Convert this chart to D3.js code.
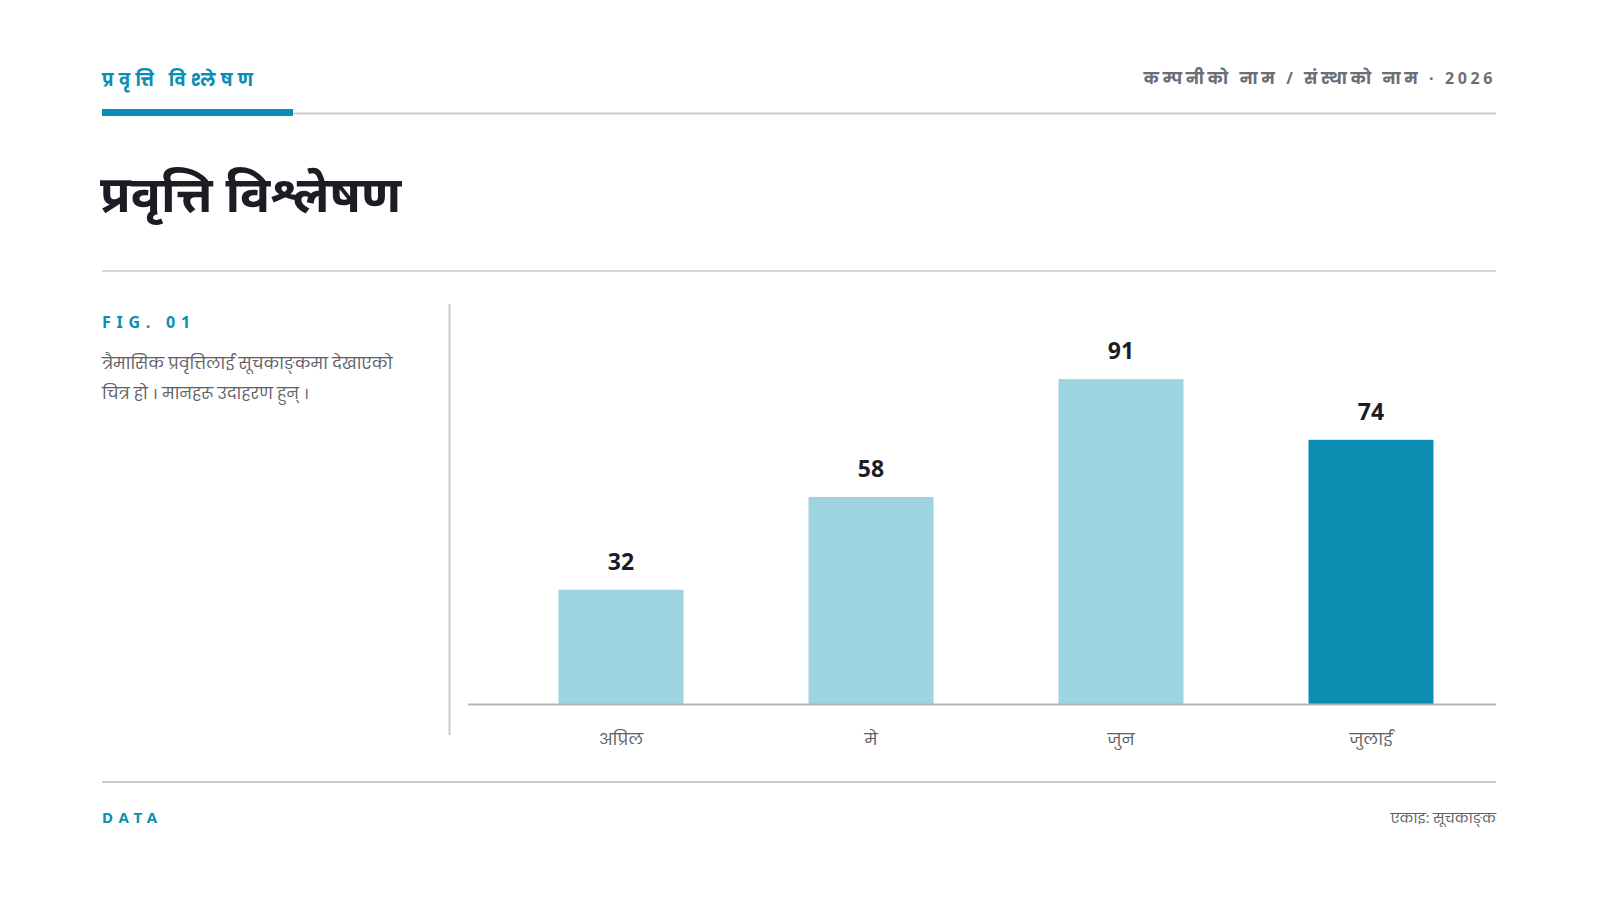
<!DOCTYPE html>
<html>
<head>
<meta charset="utf-8">
<script src="https://cdn.jsdelivr.net/npm/d3@7/dist/d3.min.js"></script>
<style>
  html, body { margin: 0; padding: 0; background: #ffffff; }
  svg { display: block; font-family: "Noto Sans", "Noto Sans Devanagari", sans-serif; }
  .soft { font-family: "Open Sans", "Poppins", sans-serif; }
  .danda { font-family: "Noto Sans Devanagari", sans-serif; }
</style>
</head>
<body>
<svg id="chart" width="1598" height="900"></svg>
<script>
// ---- data ----
const categories = ["अप्रिल", "मे", "जुन", "जुलाई"];
const values = [32, 58, 91, 74];
const highlightIndex = [3];
const headerLabel = "प्रवृत्ति विश्लेषण";
const headerRight = "कम्पनीको नाम / संस्थाको नाम · 2026";
const titleText = "प्रवृत्ति विश्लेषण";
const figLabel = "FIG. 01";
const descLines = ["त्रैमासिक प्रवृत्तिलाई सूचकाङ्कमा देखाएको", "चित्र हो। मानहरू उदाहरण हुन्।"];
const footerLeft = "DATA";
const footerRight = "एकाइ: सूचकाङ्क";

const teal = "#0a8fb3";
const light = "#9ed4e0";
const ink = "#1c1d24";
const grey = "#5f6068";
const rule = "#c9cacf";

const svg = d3.select("#chart");

// header
svg.append("text").attr("class", "soft").attr("x", 102).attr("y", 86)
  .attr("font-size", 17).attr("font-weight", 700).attr("fill", teal)
  .attr("letter-spacing", "0.31em").text(headerLabel);
svg.append("text").attr("class", "soft").attr("x", 1496).attr("y", 84).attr("text-anchor", "end")
  .attr("font-size", 16).attr("font-weight", 700).attr("fill", "#6b6e78")
  .attr("letter-spacing", "0.225em").text(headerRight);
svg.append("line").attr("x1", 102).attr("x2", 1496).attr("y1", 113.5).attr("y2", 113.5)
  .attr("stroke", rule).attr("stroke-width", 2);
svg.append("rect").attr("x", 102).attr("y", 109).attr("width", 191).attr("height", 7).attr("fill", teal);

// title
svg.append("text").attr("x", 100).attr("y", 212)
  .attr("font-size", 50).attr("font-weight", 700).attr("fill", ink).text(titleText);
svg.append("line").attr("x1", 102).attr("x2", 1496).attr("y1", 271).attr("y2", 271)
  .attr("stroke", rule).attr("stroke-width", 1.5);

// side text
svg.append("text").attr("x", 102).attr("y", 328)
  .attr("font-size", 16).attr("font-weight", 700).attr("fill", teal)
  .attr("letter-spacing", "0.36em").text(figLabel);
descLines.forEach((t, i) => {
  const txt = svg.append("text").attr("class", "soft").attr("x", 102).attr("y", 369 + i * 30)
    .attr("font-size", 16).attr("fill", grey);
  t.split(/(।)/).filter(s => s.length).forEach(seg => {
    if (seg === "।") {
      txt.append("tspan").attr("class", "danda").attr("dx", 4).text(seg);
      txt.append("tspan").attr("dx", 5).text("");
    } else {
      txt.append("tspan").text(seg);
    }
  });
});
svg.append("line").attr("x1", 449.5).attr("x2", 449.5).attr("y1", 304).attr("y2", 735)
  .attr("stroke", rule).attr("stroke-width", 2);

// chart
const x = d3.scaleBand().domain(categories).range([496, 1496]).paddingInner(0.5).paddingOuter(0.25);
const y = d3.scaleLinear().domain([0, 100]).range([704, 347]);

const g = svg.append("g");
g.selectAll("rect.bar").data(values).join("rect").attr("class", "bar")
  .attr("x", (d, i) => x(categories[i]))
  .attr("y", d => y(d))
  .attr("width", x.bandwidth())
  .attr("height", d => y(0) - y(d))
  .attr("fill", (d, i) => highlightIndex.includes(i) ? teal : light);

g.selectAll("text.val").data(values).join("text").attr("class", "val")
  .attr("x", (d, i) => x(categories[i]) + x.bandwidth() / 2)
  .attr("y", d => y(d) - 20)
  .attr("text-anchor", "middle")
  .attr("font-size", 23).attr("font-weight", 700).attr("fill", ink)
  .text(d => d);

const xAxis = svg.append("g").attr("transform", "translate(0,704)")
  .call(d3.axisBottom(x).tickSize(0));
xAxis.select(".domain").remove();
xAxis.selectAll("text").attr("class", "soft")
  .attr("font-size", 16.5).attr("fill", grey)
  .attr("font-family", "\"Open Sans\", \"Poppins\", sans-serif")
  .attr("y", 41).attr("dy", 0);
svg.append("line").attr("x1", 468).attr("x2", 1496).attr("y1", 704.5).attr("y2", 704.5)
  .attr("stroke", "#b3b5bb").attr("stroke-width", 2);

// footer
svg.append("line").attr("x1", 102).attr("x2", 1496).attr("y1", 782).attr("y2", 782)
  .attr("stroke", rule).attr("stroke-width", 2);
svg.append("text").attr("x", 102).attr("y", 823)
  .attr("font-size", 15).attr("font-weight", 700).attr("fill", teal)
  .attr("letter-spacing", "0.38em").text(footerLeft);
svg.append("text").attr("class", "soft").attr("x", 1496).attr("y", 823).attr("text-anchor", "end")
  .attr("font-size", 14).attr("fill", grey).text(footerRight);
</script>
</body>
</html>
